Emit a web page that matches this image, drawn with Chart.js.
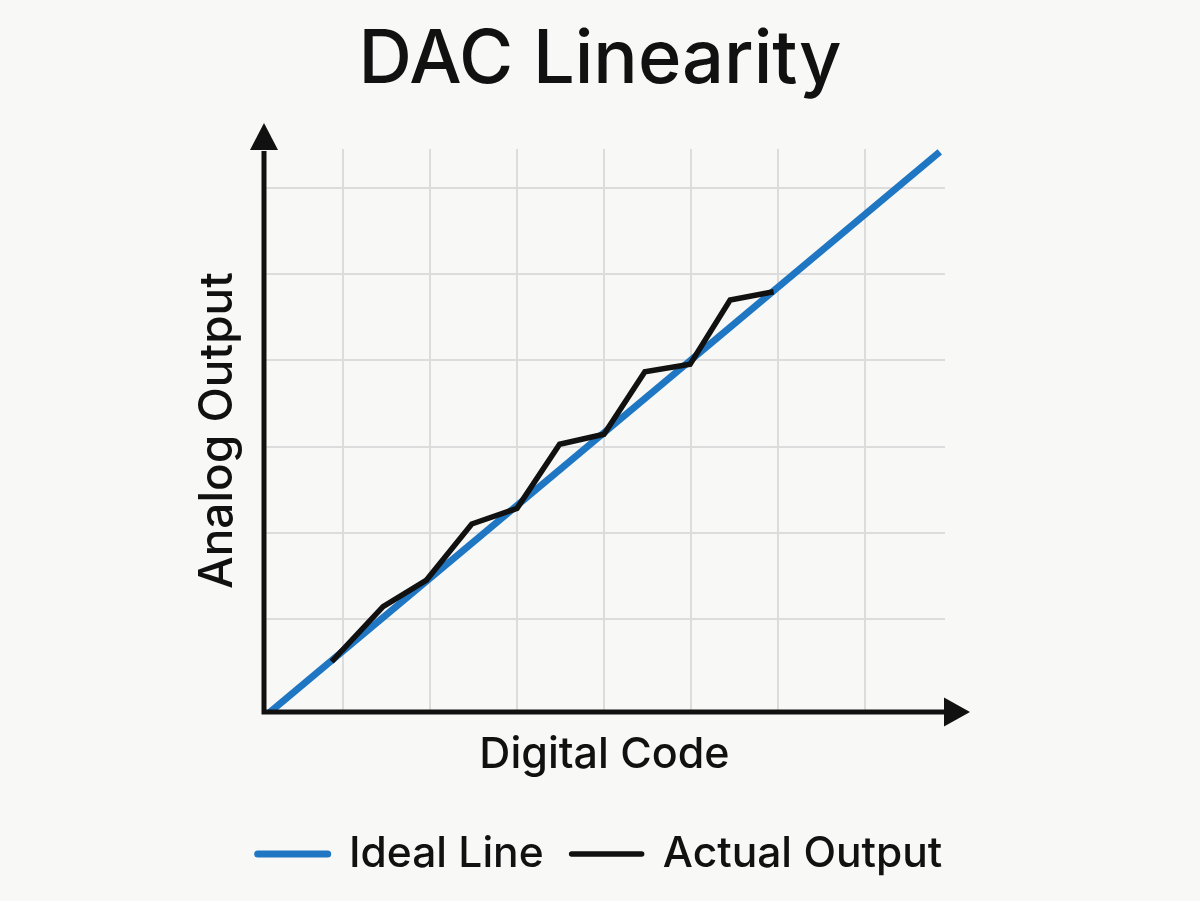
<!DOCTYPE html>
<html>
<head>
<meta charset="utf-8">
<title>DAC Linearity</title>
<script src="https://cdn.jsdelivr.net/npm/chart.js@4"></script>
<style>
  html, body { margin: 0; padding: 0; background: #f8f8f6; }
  canvas { display: block; }
</style>
</head>
<body>
<canvas id="dacChart" width="1200" height="901"></canvas>
<script>
// values are in grid units (one grid cell = 1)
const idealCodes = [0.16, 7.86];
const idealOutput = [-0.08, 6.42];
const actualCodes = [0.87, 1.46, 1.96, 2.48, 3.0, 3.49, 4.0, 4.47, 4.99, 5.45, 5.95];
const actualOutput = [0.505, 1.143, 1.452, 2.102, 2.284, 3.027, 3.143, 3.869, 3.955, 4.70, 4.797];
const xGridCodes = [1, 2, 3, 4, 5, 6, 7];
const yGridLevels = [1, 2, 3, 4, 5, 6];

const BLUE = '#1f77c4';
const INK = '#111111';
const GRID = '#dcdcdc';

function toPoints(xs, ys) {
  return xs.map((x, i) => ({ x: x, y: ys[i] }));
}

const paintBackground = {
  id: 'paintBackground',
  beforeDraw(chart) {
    const ctx = chart.ctx;
    ctx.save();
    ctx.fillStyle = '#f8f8f6';
    ctx.fillRect(0, 0, chart.width, chart.height);
    ctx.restore();
  }
};

// black axes with arrow heads, drawn over the plot
const arrowAxes = {
  id: 'arrowAxes',
  afterDraw(chart) {
    const { ctx, chartArea: a } = chart;
    ctx.save();
    ctx.strokeStyle = INK;
    ctx.fillStyle = INK;
    ctx.lineWidth = 5;
    ctx.beginPath();
    ctx.moveTo(a.left, a.bottom + 2.5);
    ctx.lineTo(a.left, a.top + 2);
    ctx.moveTo(a.left - 2.5, a.bottom);
    ctx.lineTo(a.right, a.bottom);
    ctx.stroke();
    ctx.beginPath();
    ctx.moveTo(a.left, a.top - 26);
    ctx.lineTo(a.left - 14, a.top + 1);
    ctx.lineTo(a.left + 14, a.top + 1);
    ctx.closePath();
    ctx.fill();
    ctx.beginPath();
    ctx.moveTo(a.right + 25, a.bottom);
    ctx.lineTo(a.right - 1, a.bottom - 14.5);
    ctx.lineTo(a.right - 1, a.bottom + 14.5);
    ctx.closePath();
    ctx.fill();
    ctx.restore();
  }
};

Chart.defaults.font.family = 'Inter';
Chart.defaults.font.weight = '500';
Chart.defaults.color = INK;

new Chart(document.getElementById('dacChart'), {
  type: 'line',
  data: {
    datasets: [
      {
        label: 'Ideal Line',
        data: toPoints(idealCodes, idealOutput),
        borderColor: BLUE,
        backgroundColor: BLUE,
        borderWidth: 7,
        pointRadius: 0,
        order: 1
      },
      {
        label: 'Actual Output',
        data: toPoints(actualCodes, actualOutput),
        borderColor: INK,
        backgroundColor: INK,
        borderWidth: 5.5,
        pointRadius: 0,
        order: 0
      }
    ]
  },
  options: {
    responsive: false,
    animation: false,
    layout: { padding: { top: 16.6, bottom: 15.75, left: 0, right: 0 } },
    plugins: {
      tooltip: { enabled: false },
      title: {
        display: true,
        text: 'DAC Linearity',
        font: { size: 74, weight: '500' },
        color: INK,
        padding: { top: 0, bottom: 43.6 }
      },
      legend: {
        position: 'bottom',
        labels: {
          usePointStyle: true,
          pointStyle: 'line',
          pointStyleWidth: 70,
          padding: 28,
          color: INK,
          font: { size: 42.5 },
          sort: (a, b) => a.datasetIndex - b.datasetIndex,
          generateLabels(chart) {
            const items = Chart.defaults.plugins.legend.labels.generateLabels(chart);
            items.forEach(it => { it.lineCap = 'round'; });
            return items;
          }
        }
      }
    },
    scales: {
      x: {
        type: 'linear',
        min: 0.092,
        max: 7.92,
        afterBuildTicks(scale) { scale.ticks = xGridCodes.map(v => ({ value: v })); },
        afterFit(scale) { scale.height = 92.75; },
        ticks: { display: false },
        grid: { color: GRID, lineWidth: 2, drawTicks: false },
        border: { display: false },
        title: {
          display: true,
          text: 'Digital Code',
          font: { size: 43 },
          color: INK,
          padding: { top: 0, bottom: 24.2 }
        }
      },
      y: {
        type: 'linear',
        min: -0.079,
        max: 6.453,
        afterBuildTicks(scale) { scale.ticks = yGridLevels.map(v => ({ value: v })); },
        afterFit(scale) { scale.width = 264; },
        ticks: { display: false },
        grid: { color: GRID, lineWidth: 2, drawTicks: false },
        border: { display: false },
        title: {
          display: true,
          text: 'Analog Output',
          font: { size: 46 },
          color: INK,
          padding: { top: 190.4, bottom: 0 }
        }
      },
      // empty axis on the right, only to hold the plot at the reference width
      spacer: {
        type: 'linear',
        position: 'right',
        afterFit(scale) { scale.width = 255; },
        ticks: { display: false },
        grid: { display: false, drawTicks: false },
        border: { display: false }
      }
    }
  },
  plugins: [paintBackground, arrowAxes]
});
</script>
</body>
</html>
